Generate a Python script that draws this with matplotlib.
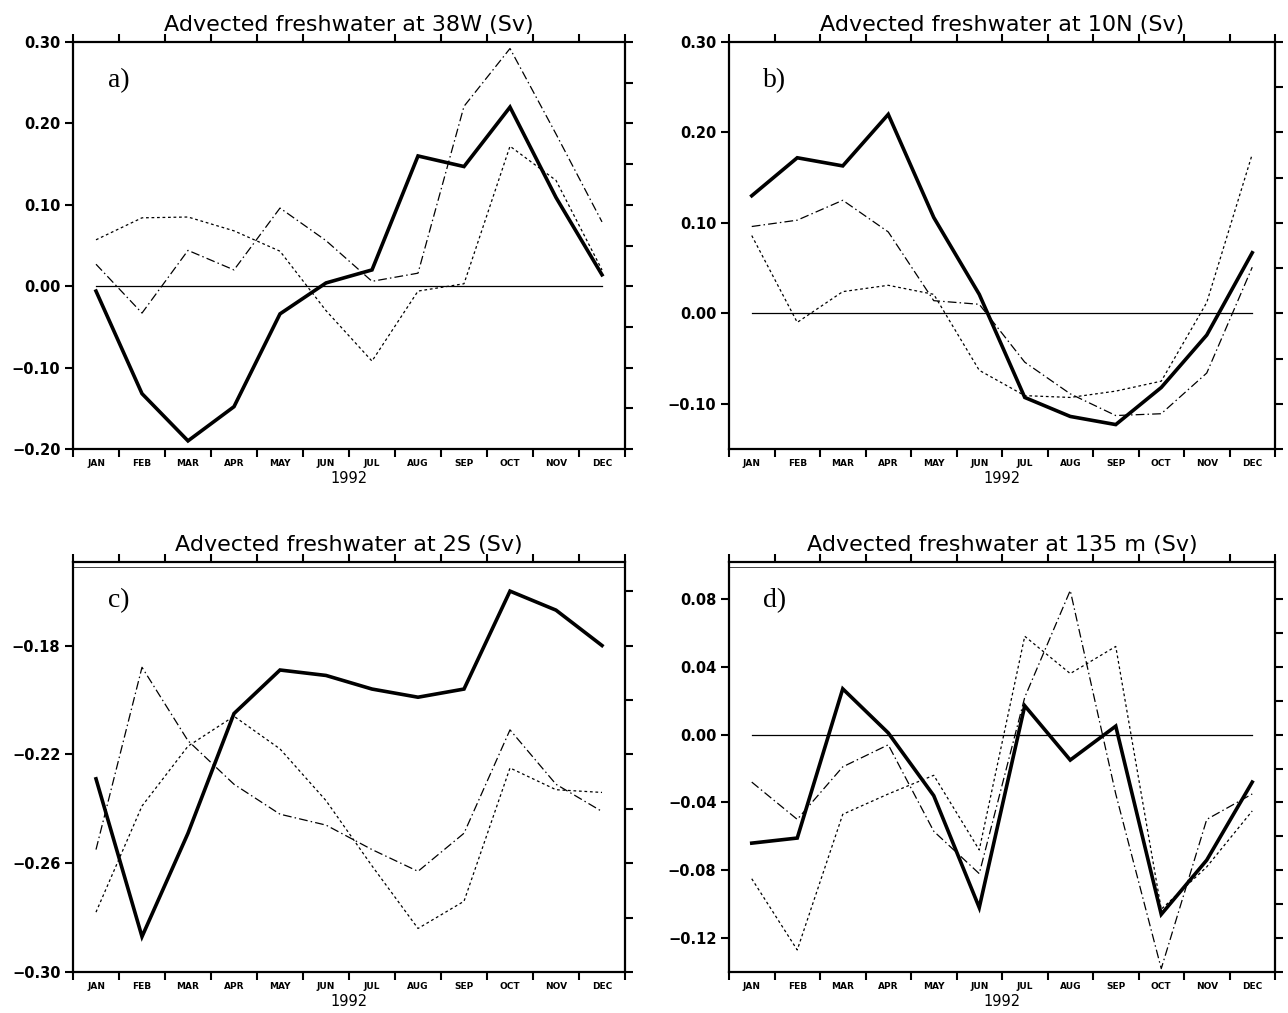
import numpy as np
import matplotlib.pyplot as plt
from matplotlib.ticker import FixedLocator, FixedFormatter, NullFormatter

months = ['JAN', 'FEB', 'MAR', 'APR', 'MAY', 'JUN',
          'JUL', 'AUG', 'SEP', 'OCT', 'NOV', 'DEC']

# a) 38W
a_solid = [-0.006, -0.132, -0.190, -0.148, -0.034, 0.004, 0.020, 0.160, 0.147, 0.220, 0.109, 0.014]
a_dashdot = [0.027, -0.033, 0.044, 0.020, 0.096, 0.056, 0.006, 0.016, 0.221, 0.292, 0.187, 0.079]
a_dotted = [0.057, 0.084, 0.085, 0.068, 0.043, -0.030, -0.092, -0.006, 0.003, 0.172, 0.130, 0.020]

# b) 10N
b_solid = [0.130, 0.172, 0.163, 0.220, 0.106, 0.021, -0.093, -0.114, -0.123, -0.082, -0.024, 0.067]
b_dashdot = [0.096, 0.103, 0.125, 0.090, 0.014, 0.010, -0.054, -0.089, -0.113, -0.111, -0.066, 0.051]
b_dotted = [0.086, -0.010, 0.024, 0.031, 0.021, -0.063, -0.091, -0.093, -0.086, -0.075, 0.012, 0.176]

# c) 2S
c_solid = [-0.229, -0.287, -0.249, -0.205, -0.189, -0.191, -0.196, -0.199, -0.196, -0.160, -0.167, -0.180]
c_dashdot = [-0.255, -0.188, -0.215, -0.231, -0.242, -0.246, -0.255, -0.263, -0.249, -0.211, -0.231, -0.241]
c_dotted = [-0.278, -0.239, -0.217, -0.206, -0.218, -0.237, -0.261, -0.284, -0.274, -0.225, -0.233, -0.234]

# d) 135 m
d_solid = [-0.064, -0.061, 0.027, 0.001, -0.036, -0.102, 0.017, -0.015, 0.005, -0.106, -0.074, -0.028]
d_dashdot = [-0.028, -0.050, -0.019, -0.006, -0.057, -0.082, 0.022, 0.085, -0.035, -0.138, -0.050, -0.035]
d_dotted = [-0.085, -0.127, -0.047, -0.035, -0.024, -0.068, 0.058, 0.036, 0.052, -0.103, -0.078, -0.045]

W, H = 1288, 1013
fig = plt.figure(figsize=(W / 100, H / 100), dpi=100)


def px_axes(x0, x1, y0, y1):
    # pixel box (top-left origin) -> figure fraction
    return fig.add_axes([x0 / W, 1 - y1 / H, (x1 - x0) / W, (y1 - y0) / H])


def fmt(v):
    s = '%.2f' % abs(v)
    return ('\u2212' + s) if v < -1e-9 else s


def panel(ax, solid, dashdot, dotted, ylim, labeled, rticks, letter, title,
          zero=True, frame=None):
    x = np.arange(12) + 0.5
    if zero:
        ax.plot(x[[0, -1]], [0, 0], color='black', lw=0.9)
    ax.plot(x, dotted, color='black', lw=0.9, dashes=(2.2, 2.2))
    ax.plot(x, dashdot, color='black', lw=0.9, dashes=(7, 2.5, 1.2, 2.5))
    ax.plot(x, solid, color='black', lw=2.6, solid_joinstyle='miter')
    if frame is not None:
        ax.axhline(frame, color='#444444', lw=0.7)

    ax.set_xlim(0, 12)
    ax.set_ylim(*ylim)

    ax.xaxis.set_major_locator(FixedLocator(np.arange(13)))
    ax.xaxis.set_major_formatter(NullFormatter())
    ax.xaxis.set_minor_locator(FixedLocator(x))
    ax.xaxis.set_minor_formatter(FixedFormatter(months))
    ax.tick_params(axis='x', which='major', direction='out', length=6,
                   width=1.5, top=True, bottom=True)
    ax.tick_params(axis='x', which='minor', length=0, pad=7, top=False,
                   labelsize=6.5)
    for t in ax.xaxis.get_minorticklabels():
        t.set_fontweight('heavy')

    ax.yaxis.remove_overlapping_locs = False
    ax.yaxis.set_major_locator(FixedLocator(labeled))
    ax.yaxis.set_major_formatter(FixedFormatter([fmt(v) for v in labeled]))
    ax.yaxis.set_minor_locator(FixedLocator(rticks))
    ax.tick_params(axis='y', which='major', direction='out', length=6,
                   width=1.5, left=True, right=False, labelsize=10.5, pad=3)
    ax.tick_params(axis='y', which='minor', direction='out', length=6,
                   width=1.5, left=False, right=True)
    for t in ax.yaxis.get_majorticklabels():
        t.set_fontweight('bold')

    for s in ax.spines.values():
        s.set_linewidth(1.6)

    ax.set_title(title, fontsize=16, pad=8)
    ax.set_xlabel('1992', fontsize=10.5, labelpad=2)
    ax.text(0.063, 0.905, letter, transform=ax.transAxes, fontsize=20,
            family='Liberation Serif', va='center', ha='left')


ax_a = px_axes(73, 625, 42, 449)
panel(ax_a, a_solid, a_dashdot, a_dotted, (-0.20, 0.30),
      [0.30, 0.20, 0.10, 0.00, -0.10, -0.20],
      np.round(np.arange(-0.20, 0.301, 0.05), 2),
      'a)', 'Advected freshwater at 38W (Sv)')

ax_b = px_axes(729, 1275, 42, 449)
panel(ax_b, b_solid, b_dashdot, b_dotted, (-0.15, 0.30),
      [0.30, 0.20, 0.10, 0.00, -0.10],
      np.round(np.arange(-0.15, 0.301, 0.05), 2),
      'b)', 'Advected freshwater at 10N (Sv)')

ax_c = px_axes(73, 625, 562, 972)
panel(ax_c, c_solid, c_dashdot, c_dotted, (-0.30, -0.1493),
      [-0.18, -0.22, -0.26, -0.30],
      np.round(np.arange(-0.30, -0.159, 0.02), 2),
      'c)', 'Advected freshwater at 2S (Sv)', zero=False, frame=-0.151)

ax_d = px_axes(729, 1275, 562, 972)
panel(ax_d, d_solid, d_dashdot, d_dotted, (-0.14, 0.1018),
      [0.08, 0.04, 0.00, -0.04, -0.08, -0.12],
      np.round(np.arange(-0.14, 0.081, 0.02), 2),
      'd)', 'Advected freshwater at 135 m (Sv)', frame=0.099)

fig.savefig('out.png', dpi=100)
